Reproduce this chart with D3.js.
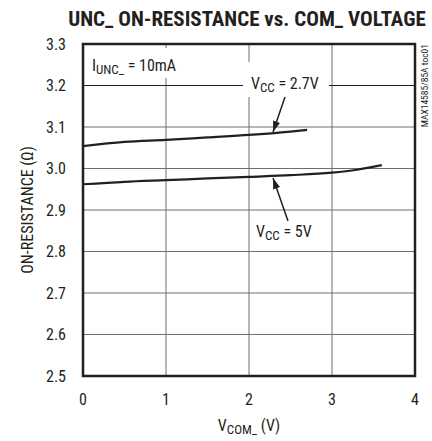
<!DOCTYPE html>
<html><head><meta charset="utf-8">
<script src="https://cdn.jsdelivr.net/npm/d3@7"></script>
<style>
body{margin:0;background:#fff;}
text{font-family:"Liberation Sans Narrow","Roboto Condensed","Arial Narrow",sans-serif;fill:#231f20;}
</style></head><body>
<svg id="c" width="432" height="441"></svg>
<script>
const xTicks = [0, 1, 2, 3, 4];
const yTicks = [2.5, 2.6, 2.7, 2.8, 2.9, 3.0, 3.1, 3.2, 3.3];
const vcom27 = [0, 0.5, 1.0, 1.5, 2.0, 2.5, 2.7];
const ron27  = [3.054, 3.064, 3.069, 3.075, 3.081, 3.089, 3.093];
const vcom5  = [0, 0.5, 1.0, 1.5, 2.0, 2.5, 3.0, 3.3, 3.6];
const ron5   = [2.962, 2.968, 2.972, 2.976, 2.980, 2.984, 2.990, 2.997, 3.008];

const svg = d3.select("#c");
const L = 83, R = 415, T = 44, B = 376;
const x = d3.scaleLinear().domain([0, 4]).range([L, R]);
const y = d3.scaleLinear().domain([2.5, 3.3]).range([B, T]);

// title
svg.append("text").attr("x", 247).attr("y", 26).attr("text-anchor", "middle")
  .style("font-size", "21px").style("font-weight", "bold")
  .text("UNC_ ON-RESISTANCE vs. COM_ VOLTAGE");

// grid
const g = svg.append("g");
g.selectAll("line.v").data(xTicks.slice(1, -1)).enter().append("line")
  .attr("x1", d => x(d)).attr("x2", d => x(d)).attr("y1", T).attr("y2", B)
  .attr("stroke", "#6d6e71").attr("stroke-width", 1);
g.selectAll("line.h").data(yTicks.slice(1, -1)).enter().append("line")
  .attr("x1", L).attr("x2", R).attr("y1", d => y(d)).attr("y2", d => y(d))
  .attr("stroke", d => d === 3.2 ? "#231f20" : "#6d6e71").attr("stroke-width", 1);

// label backgrounds
svg.append("rect").attr("x", x(0) + 4).attr("y", 48).attr("width", 112).attr("height", 30).attr("fill", "#fff");
svg.append("rect").attr("x", 243).attr("y", 62).attr("width", 86).attr("height", 35).attr("fill", "#fff");

// curves
const line = d3.line().x(d => x(d[0])).y(d => y(d[1])).curve(d3.curveMonotoneX);
svg.append("path").datum(vcom27.map((v, i) => [v, ron27[i]])).attr("d", line)
  .attr("fill", "none").attr("stroke", "#231f20").attr("stroke-width", 2.2);
svg.append("path").datum(vcom5.map((v, i) => [v, ron5[i]])).attr("d", line)
  .attr("fill", "none").attr("stroke", "#231f20").attr("stroke-width", 2.2);

// frame
svg.append("rect").attr("x", L).attr("y", T).attr("width", R - L).attr("height", B - T)
  .attr("fill", "none").attr("stroke", "#231f20").attr("stroke-width", 2.5);

// axes tick labels
svg.selectAll("text.yt").data(yTicks).enter().append("text")
  .attr("x", 66).attr("y", d => y(d) + 5.5).attr("text-anchor", "end")
  .style("font-size", "16px").text(d => d.toFixed(1));
svg.selectAll("text.xt").data(xTicks).enter().append("text")
  .attr("x", d => x(d)).attr("y", 405).attr("text-anchor", "middle")
  .style("font-size", "16px").text(d => d);

// axis titles
const xt = svg.append("text").attr("x", 249).attr("y", 431).attr("text-anchor", "middle").style("font-size", "16px");
xt.append("tspan").text("V");
xt.append("tspan").attr("dy", 3).style("font-size", "13px").text("COM_");
xt.append("tspan").attr("dy", -3).text(" (V)");

svg.append("text").attr("transform", "translate(33,210) rotate(-90)").attr("text-anchor", "middle")
  .style("font-size", "16px").text("ON-RESISTANCE (Ω)");

svg.append("text").attr("transform", "translate(428,44) rotate(-90)").attr("text-anchor", "end")
  .style("font-size", "9.5px").text("MAX14585/85A toc01");

// annotations
function sub(xx, yy, main, s, rest) {
  const e = svg.append("text").attr("x", xx).attr("y", yy).style("font-size", "16px");
  e.append("tspan").text(main);
  e.append("tspan").attr("dy", 3).style("font-size", "13px").text(s);
  e.append("tspan").attr("dy", -3).text(rest);
}
sub(92, 71, "I", "UNC_", " = 10mA");
sub(251, 89, "V", "CC", " = 2.7V");
sub(256, 237, "V", "CC", " = 5V");

// arrows
svg.append("defs").append("marker").attr("id", "ah").attr("viewBox", "0 0 12 10")
  .attr("refX", 12).attr("refY", 5).attr("markerWidth", 12).attr("markerHeight", 9)
  .attr("markerUnits", "userSpaceOnUse").attr("orient", "auto")
  .append("path").attr("d", "M0,1 L12,5 L0,9 Z").attr("fill", "#231f20");
svg.append("line").attr("x1", 285).attr("y1", 97).attr("x2", 273).attr("y2", 132)
  .attr("stroke", "#231f20").attr("stroke-width", 1.5).attr("marker-end", "url(#ah)");
svg.append("line").attr("x1", 288).attr("y1", 221).attr("x2", 273).attr("y2", 178)
  .attr("stroke", "#231f20").attr("stroke-width", 1.5).attr("marker-end", "url(#ah)");
</script></body></html>
